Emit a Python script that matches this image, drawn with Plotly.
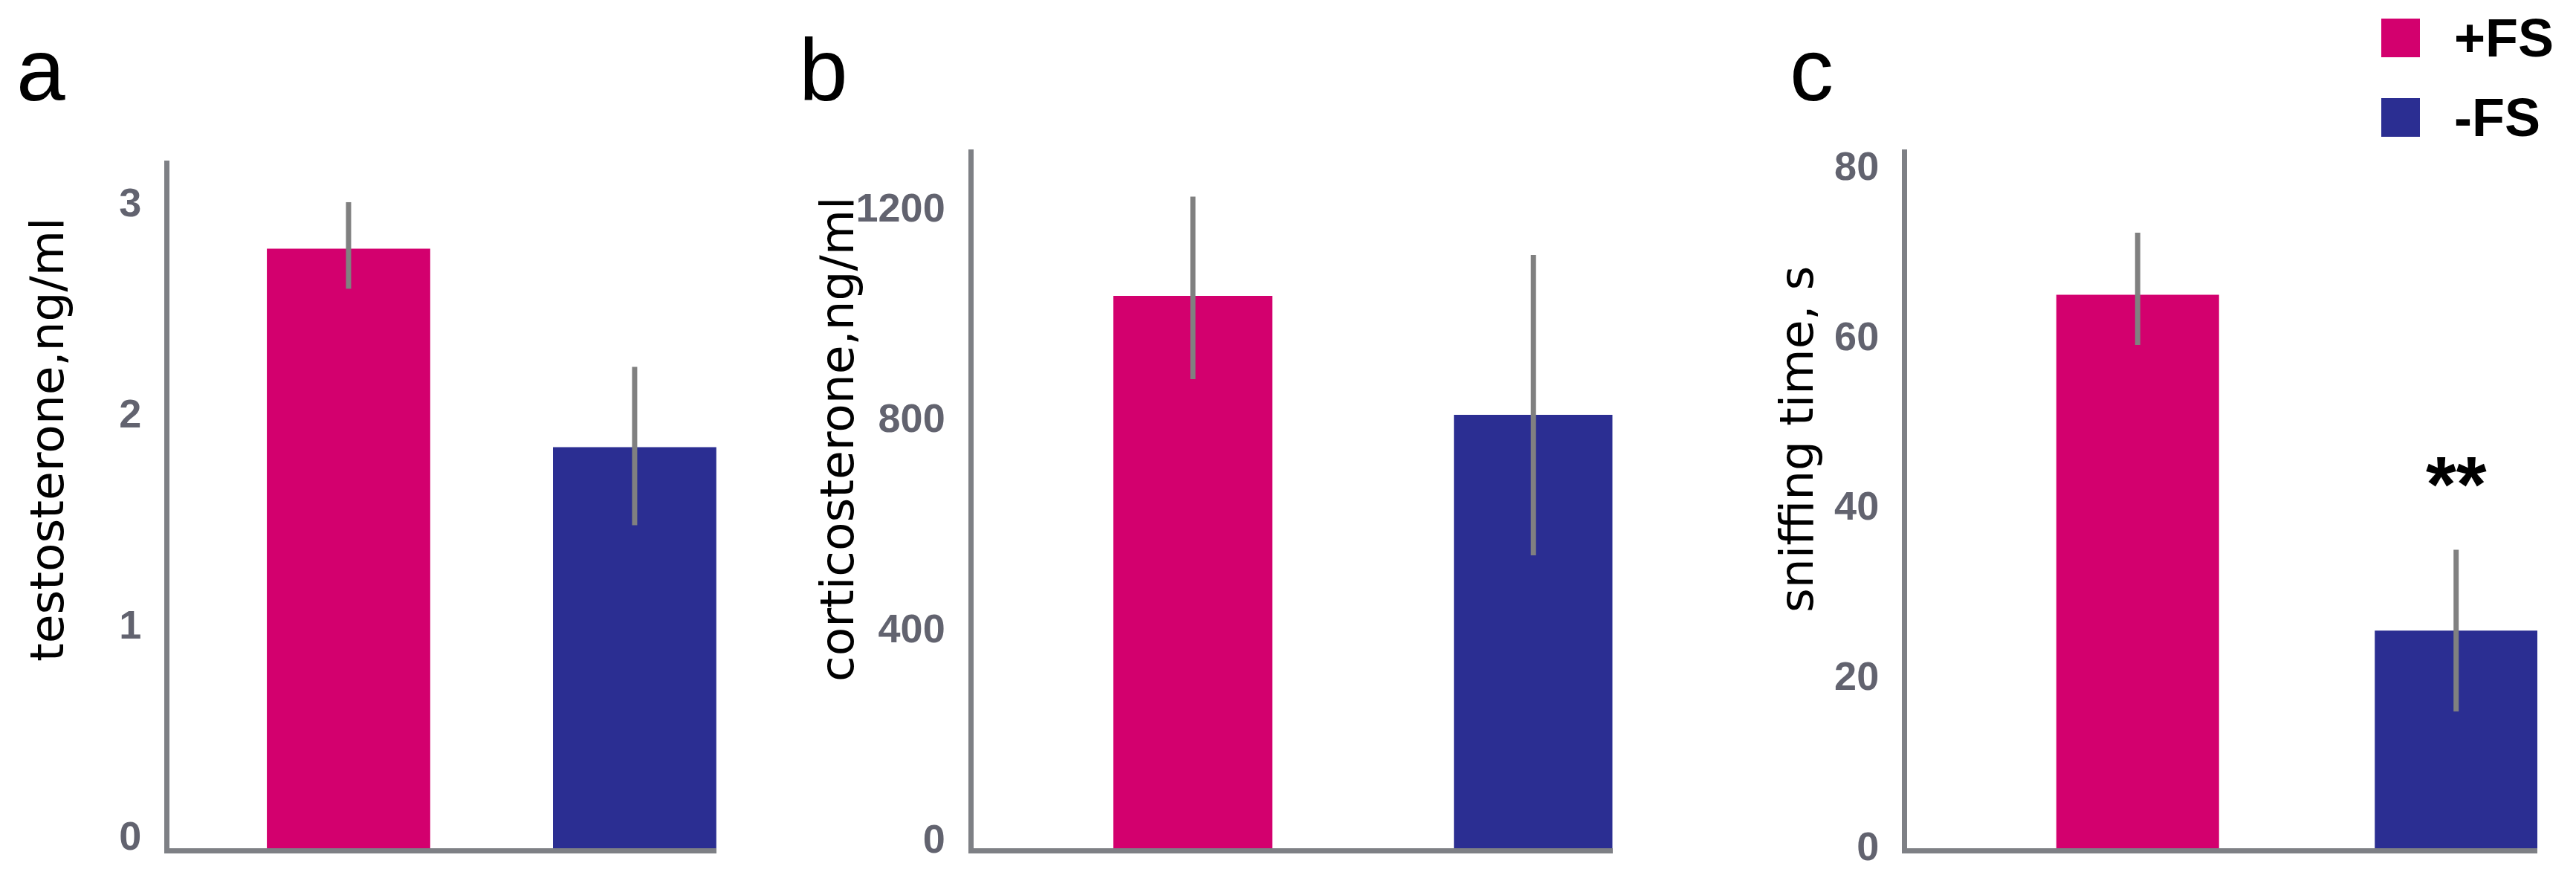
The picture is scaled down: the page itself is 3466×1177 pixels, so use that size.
import plotly.graph_objects as go

groups = ["+FS", "-FS"]
colors = ["#d3006e", "#2b2e92"]

# panel a
testosterone = [2.84, 1.90]
testosterone_err_up = [0.22, 0.38]
testosterone_err_down = [0.19, 0.37]
testosterone_ticks = [0, 1, 2, 3]

# panel b
corticosterone = [1050, 824]
corticosterone_err_up = [189, 304]
corticosterone_err_down = [158, 267]
corticosterone_ticks = [0, 400, 800, 1200]

# panel c
sniffing = [65.1, 25.6]
sniffing_err_up = [7.3, 9.5]
sniffing_err_down = [5.9, 9.5]
sniffing_ticks = [0, 20, 40, 60, 80]

W, H = 3466, 1177
AXIS_GREY = "#7e8085"
ERR_GREY = "#808080"
TICK_GREY = "#62636f"
tick_font = dict(family="Liberation Sans, Arial, sans-serif", size=54, color=TICK_GREY, weight="bold")
title_font = dict(family="DejaVu Sans, Arial, sans-serif", size=63, color="black")


def px_x(v):
    return v / W


def px_y(v):
    return 1 - v / H


fig = go.Figure()

panels = [
    # values, err up, err down, ticks, bar width, x range, x domain (px), top (px), yrange top, label lift
    (testosterone, testosterone_err_up, testosterone_err_down, testosterone_ticks, 0.571,
     [-0.626, 1.286], (228, 964), 216, 3.257, 17),
    (corticosterone, corticosterone_err_up, corticosterone_err_down, corticosterone_ticks, 0.467,
     [-0.645, 1.232], (1309.5, 2169.5), 201, 1328.6, 13),
    (sniffing, sniffing_err_up, sniffing_err_down, sniffing_ticks, 0.511,
     [-0.724, 1.255], (2566, 3414), 201, 82.2, 3),
]

for i, (vals, eu, ed, ticks, bw, xr, xdom, top, ytop, lift) in enumerate(panels, start=1):
    xa = "x" if i == 1 else f"x{i}"
    ya = "y" if i == 1 else f"y{i}"
    fig.add_trace(go.Bar(
        x=groups, y=vals, width=bw,
        marker=dict(color=colors, line=dict(width=0)),
        error_y=dict(type="data", symmetric=False, array=eu, arrayminus=ed,
                     color=ERR_GREY, thickness=7, width=0),
        xaxis=xa, yaxis=ya, showlegend=False,
    ))
    fig.update_layout(**{
        ("xaxis" if i == 1 else f"xaxis{i}"): dict(
            domain=[px_x(xdom[0]), px_x(xdom[1])], range=xr, anchor=ya, automargin=False,
            showline=True, linecolor=AXIS_GREY, linewidth=7,
            showticklabels=False, ticks="", showgrid=False, zeroline=False,
        ),
        ("yaxis" if i == 1 else f"yaxis{i}"): dict(
            domain=[px_y(1141), px_y(top)], range=[0, ytop], anchor=xa, automargin=False,
            showline=True, linecolor=AXIS_GREY, linewidth=7,
            tickvals=ticks, ticks="", ticklabelstandoff=20, ticklabelshift=-lift,
            ticklabeloverflow="allow", tickfont=tick_font, showgrid=False, zeroline=False,
        ),
    })

annotations = []
# axis titles
for text, xc in [("testosterone,ng/ml", 63), ("corticosterone,ng/ml", 1126), ("sniffing time, s", 2417)]:
    annotations.append(dict(text=text, x=px_x(xc), y=px_y(591), xref="paper", yref="paper",
                            textangle=-90, showarrow=False, font=title_font,
                            xanchor="center", yanchor="middle"))
# panel letters
for text, xl in [("a", 20), ("b", 1073), ("c", 2406)]:
    annotations.append(dict(text=text, x=px_x(xl), y=px_y(94), xref="paper", yref="paper",
                            showarrow=False, xanchor="left", yanchor="middle",
                            font=dict(family="Liberation Sans, Arial, sans-serif", size=118, color="black")))
# significance mark over -FS bar in panel c
annotations.append(dict(text="**", x=groups[1], y=sniffing[1] + sniffing_err_up[1], xref="x3", yref="y3",
                        yshift=88, showarrow=False, xanchor="center", yanchor="middle",
                        font=dict(family="Liberation Sans, Arial, sans-serif", size=105, color="black",
                                  weight="bold")))

# legend (drawn by hand so the swatches can be as large as in the original)
shapes = []
for name, col, yc in zip(groups, colors, [51, 158]):
    shapes.append(dict(type="rect", xref="paper", yref="paper",
                       x0=px_x(3204), x1=px_x(3256), y0=px_y(yc + 26), y1=px_y(yc - 26),
                       fillcolor=col, line=dict(width=0)))
    annotations.append(dict(text=name, x=px_x(3300), y=px_y(yc), xref="paper", yref="paper",
                            showarrow=False, xanchor="left", yanchor="middle",
                            font=dict(family="Liberation Sans, Arial, sans-serif", size=72,
                                      color="black", weight="bold")))

fig.update_layout(
    width=W, height=H, margin=dict(l=0, r=0, t=0, b=0),
    paper_bgcolor="white", plot_bgcolor="white",
    annotations=annotations, shapes=shapes,
)

fig.write_html("out.html", config={"displayModeBar": False},
               post_script="document.body.style.margin='0';")
